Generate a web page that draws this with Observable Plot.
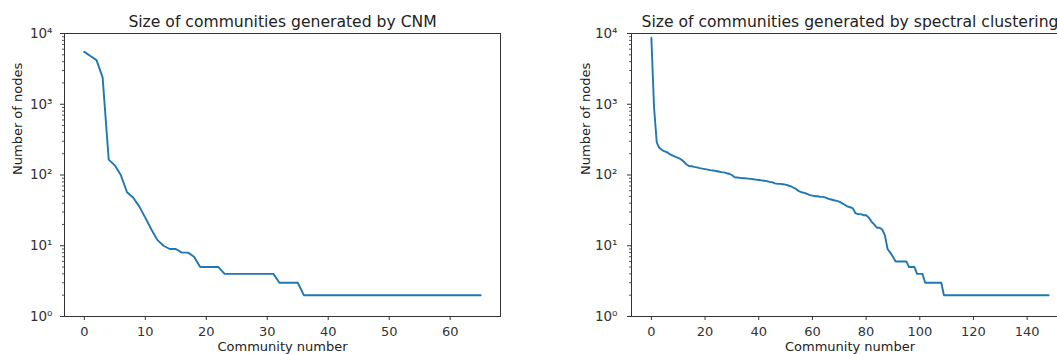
<!DOCTYPE html>
<html><head><meta charset="utf-8">
<script src="https://cdn.jsdelivr.net/npm/d3@7"></script>
<script src="https://cdn.jsdelivr.net/npm/@observablehq/plot@0.6"></script>
<style>
html,body{margin:0;padding:0;background:#fff;overflow:hidden;width:1057px;height:354px}
#wrap{position:relative;width:1057px;height:354px;overflow:hidden;background:#fff}
#wrap svg{position:absolute;top:0;max-width:none}
</style></head><body><div id="wrap"></div>
<script>
const cnmSizes = [5500, 4800, 4200, 2400, 165, 137, 99, 57, 48, 36, 25, 17, 12, 10, 9, 9, 8, 8, 7, 5,
  5, 5, 5, 4, 4, 4, 4, 4, 4, 4, 4, 4, 3, 3, 3, 3, 2, 2, 2, 2,
  2, 2, 2, 2, 2, 2, 2, 2, 2, 2, 2, 2, 2, 2, 2, 2, 2, 2, 2, 2,
  2, 2, 2, 2, 2, 2];
const spectralSizes = [8700, 900, 290, 240, 225, 215, 208, 195, 188, 180,
  175, 167, 155, 142, 134, 133, 130, 128, 125, 123,
  121, 119, 117, 116, 114, 112, 110, 109, 106, 104,
  100, 93, 92, 91, 90, 90, 89, 88, 87, 86,
  85, 84, 83, 82, 80, 79, 76, 75, 75, 74,
  73, 71, 69, 66, 63, 59, 57, 56, 54, 52,
  51, 50, 50, 49, 49, 48, 46, 45, 44, 43,
  42, 40, 38, 36, 35, 34, 29, 28, 28, 27,
  27, 25, 22, 20, 18, 18, 17, 14, 9, 8,
  7, 6, 6, 6, 6, 6, 5, 5, 5, 4,
  4, 4, 3, 3, 3, 3, 3, 3, 3, 2,
  2, 2, 2, 2, 2, 2, 2, 2, 2, 2,
  2, 2, 2, 2, 2, 2, 2, 2, 2, 2,
  2, 2, 2, 2, 2, 2, 2, 2, 2, 2,
  2, 2, 2, 2, 2, 2, 2, 2, 2];
const yTickValues = [1, 10, 100, 1000, 10000];
const yTickLabels = ["10⁰", "10¹", "10²", "10³", "10⁴"];
const cnmXTicks = [0, 10, 20, 30, 40, 50, 60];
const spectralXTicks = [0, 20, 40, 60, 80, 100, 120, 140];
const cnmTitle = "Size of communities generated by CNM";
const spectralTitle = "Size of communities generated by spectral clustering";
const xLabel = "Community number";
const yLabel = "Number of nodes";

const minorTicks = [];
for (const base of yTickValues.slice(0, -1)) for (let k = 2; k <= 9; k++) minorTicks.push(base * k);

const FONT = "DejaVu Sans";
function panel({sizes, xTicks, title, left, width, marginLeft, marginRight, yPad, yLabelDx}) {
  const data = sizes.map((v, i) => ({i, v}));
  const n = sizes.length - 1;
  const pad = n * 0.05;
  const svg = Plot.plot({
    width, height: 354,
    marginLeft, marginRight, marginTop: 33, marginBottom: 38,
    style: {fontFamily: FONT, fontSize: "13px", color: "#333", background: "#fff", overflow: "visible"},
    x: {domain: [-pad, n + pad]},
    y: {type: "log", domain: [1, 10000]},
    marks: [
      Plot.axisX({ticks: xTicks, tickSize: 4, tickPadding: 6, label: null, tickFormat: d => String(d), stroke: "#333"}),
      Plot.axisY({ticks: minorTicks, tickSize: 2, tickFormat: () => "", label: null, stroke: "#555"}),
      Plot.axisY({ticks: yTickValues, tickSize: 4, tickPadding: yPad, label: null, fontSize: 13.5,
        tickFormat: d => yTickLabels[yTickValues.indexOf(d)], stroke: "#333"}),
      Plot.frame({stroke: "#333", strokeWidth: 1}),
      Plot.line(data, {x: "i", y: "v", stroke: "#1f77b4", strokeWidth: 1.9}),
      Plot.text([title], {text: d => d, frameAnchor: "top", dy: -18, fontSize: 15.6, fill: "#222"}),
      Plot.text([yLabel], {text: d => d, frameAnchor: "left", rotate: -90, dx: yLabelDx, fontSize: 13, fill: "#222"}),
      Plot.text([xLabel], {text: d => d, frameAnchor: "bottom", dy: 34, fontSize: 13, fill: "#222"})
    ]
  });
  svg.style.left = left + "px";
  document.getElementById("wrap").appendChild(svg);
}

panel({sizes: cnmSizes, xTicks: cnmXTicks, title: cnmTitle, left: 0, width: 540, marginLeft: 64, marginRight: 40, yPad: 8, yLabelDx: -47});
panel({sizes: spectralSizes, xTicks: spectralXTicks, title: spectralTitle, left: 540, width: 560, marginLeft: 91, marginRight: 32, yPad: 10, yLabelDx: -46});
</script></body></html>
